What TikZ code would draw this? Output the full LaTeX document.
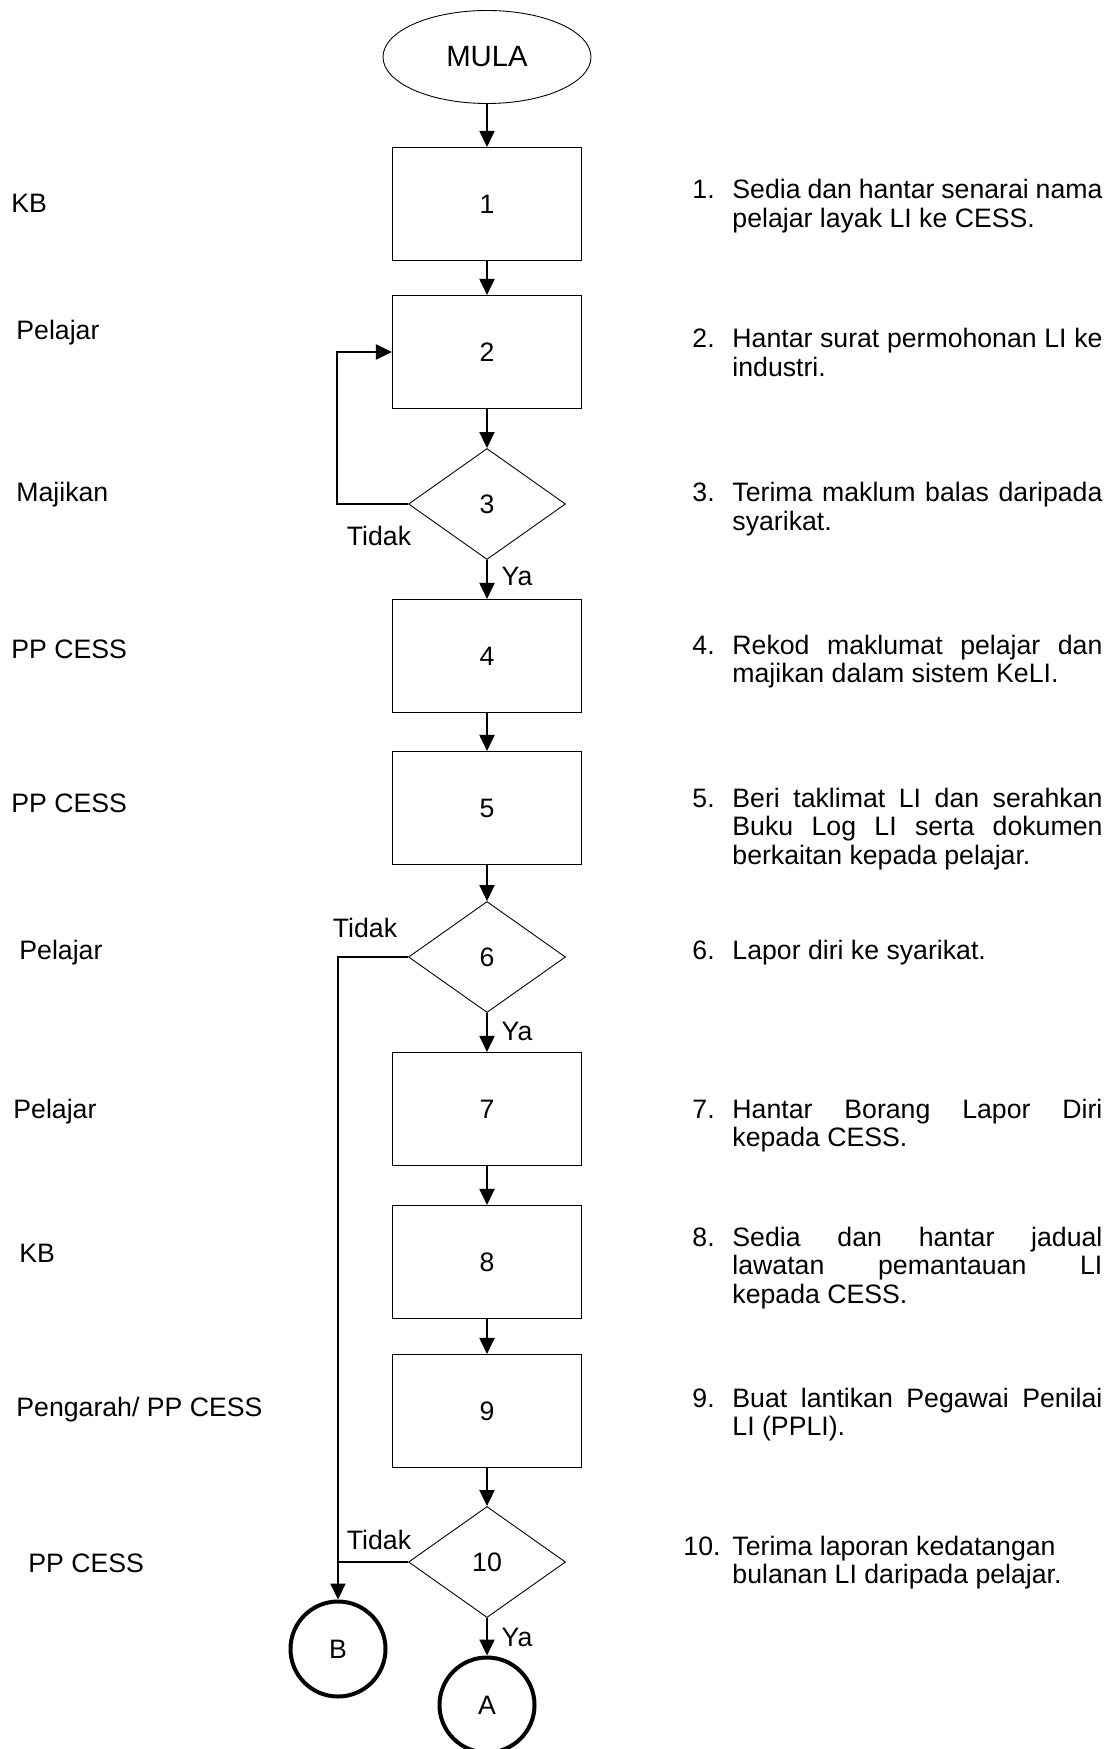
\documentclass[tikz,border=0pt]{standalone}
\usepackage{fontspec}
\setmainfont{Liberation Sans}
\usetikzlibrary{shapes.geometric,arrows.meta}
\newlength{\dw}\setlength{\dw}{166.5pt}
% one justified line of a description, stretched to the full column width
\newcommand{\jl}[1]{\makebox[\dw][s]{#1}\\}
\begin{document}
\begin{tikzpicture}[x=0.45pt,y=-0.45pt,
  every node/.style={font=\fontsize{12}{13}\selectfont},
  stepbox/.style={draw,line width=0.5pt,minimum width=85.05pt,minimum height=50.85pt,inner sep=0},
  decision/.style={draw,diamond,aspect=1.414,line width=0.4pt,minimum width=70.65pt,minimum height=49.95pt,inner sep=0},
  terminal/.style={draw,ellipse,line width=0.4pt,minimum width=93.6pt,minimum height=41.85pt,inner sep=0,font=\fontsize{13.2}{14}\selectfont},
  joiner/.style={draw,circle,line width=1.8pt,minimum size=42.75pt,inner sep=0},
  flow/.style={line width=0.7pt,-{Triangle[length=7.2pt,width=6.8pt]}},
  plain/.style={line width=0.7pt},
  role/.style={anchor=base west,inner sep=0},
  desc/.style={anchor=base west,inner sep=0},
  lbl/.style={inner sep=0},
]
\useasboundingbox (0,0) rectangle (1108,1749);
\fill[white] (0,0) rectangle (1108,1749);

% main column of the flow chart
\node[terminal] (start) at (487,57) {MULA};
\node[stepbox]  (b1) at (487,204) {1};
\node[stepbox]  (b2) at (487,352) {2};
\node[decision] (d3) at (487,504) {3};
\node[stepbox]  (b4) at (487,656) {4};
\node[stepbox]  (b5) at (487,808) {5};
\node[decision] (d6) at (487,957) {6};
\node[stepbox]  (b7) at (487,1109) {7};
\node[stepbox]  (b8) at (487,1262) {8};
\node[stepbox]  (b9) at (487,1411) {9};
\node[decision] (d10) at (487,1562) {10};
\node[joiner]   (B) at (338,1649) {B};
\node[joiner]   (A) at (487,1705) {A};

\coordinate (loopx) at (337,0);

% connectors
\draw[flow] (start) -- (b1);
\draw[flow] (b1) -- (b2);
\draw[flow] (b2) -- (d3);
\draw[flow] (d3.west) -- (d3.west -| loopx) |- (b2.west);
\draw[flow] (d3) -- (b4);
\draw[flow] (b4) -- (b5);
\draw[flow] (b5) -- (d6);
\draw[flow] (d6) -- (b7);
\draw[flow] (d6.west) -| (B.north);
\draw[flow] (b7) -- (b8);
\draw[flow] (b8) -- (b9);
\draw[flow] (b9) -- (d10);
\draw[plain] (d10.west) -- (d10.west -| B.north);
\draw[flow] (d10) -- (A);

% branch labels
\node[lbl] (t3)  at (379,536)  {Tidak};
\node[lbl] (y3)  at (517,576)  {Ya};
\node[lbl] (t6)  at (365,928)  {Tidak};
\node[lbl] (y6)  at (517,1031) {Ya};
\node[lbl] (t10) at (379,1540) {Tidak};
\node[lbl] (y10) at (517,1637) {Ya};

% who is responsible for each step
\node[role] (r1)  at (11,213)  {KB};
\node[role] (r2)  at (16,340)  {Pelajar};
\node[role] (r3)  at (16,501)  {Majikan};
\node[role] (r4)  at (11,658)  {PP CESS};
\node[role] (r5)  at (11,812)  {PP CESS};
\node[role] (r6)  at (19,959)  {Pelajar};
\node[role] (r7)  at (13,1118) {Pelajar};
\node[role] (r8)  at (19,1262) {KB};
\node[role] (r9)  at (16,1416) {Pengarah/ PP CESS};
\node[role] (r10) at (28,1572) {PP CESS};

% numbered step descriptions
\node[desc] (n1)  at (692,199)  {1.};
\node[desc] (s1)  at (732,199)  {\parbox[t]{\dw}{\jl{Sedia dan hantar senarai nama}pelajar layak LI ke CESS.}};
\node[desc] (n2)  at (692,348)  {2.};
\node[desc] (s2)  at (732,348)  {\parbox[t]{\dw}{\jl{Hantar surat permohonan LI ke}industri.}};
\node[desc] (n3)  at (692,502)  {3.};
\node[desc] (s3)  at (732,502)  {\parbox[t]{\dw}{\jl{Terima maklum balas daripada}syarikat.}};
\node[desc] (n4)  at (692,654)  {4.};
\node[desc] (s4)  at (732,654)  {\parbox[t]{\dw}{\jl{Rekod maklumat pelajar dan}majikan dalam sistem KeLI.}};
\node[desc] (n5)  at (692,807)  {5.};
\node[desc] (s5)  at (732,807)  {\parbox[t]{\dw}{\jl{Beri taklimat LI dan serahkan}\jl{Buku Log LI serta dokumen}berkaitan kepada pelajar.}};
\node[desc] (n6)  at (692,959)  {6.};
\node[desc] (s6)  at (732,959)  {\parbox[t]{\dw}{Lapor diri ke syarikat.}};
\node[desc] (n7)  at (692,1118) {7.};
\node[desc] (s7)  at (732,1118) {\parbox[t]{\dw}{\jl{Hantar Borang Lapor Diri}kepada CESS.}};
\node[desc] (n8)  at (692,1246) {8.};
\node[desc] (s8)  at (732,1246) {\parbox[t]{\dw}{\jl{Sedia dan hantar jadual}\jl{lawatan pemantauan LI}kepada CESS.}};
\node[desc] (n9)  at (692,1407) {9.};
\node[desc] (s9)  at (732,1407) {\parbox[t]{\dw}{\jl{Buat lantikan Pegawai Penilai}LI (PPLI).}};
\node[desc] (n10) at (683,1555) {10.};
\node[desc] (s10) at (732,1555) {\parbox[t]{\dw}{Terima laporan kedatangan\\bulanan LI daripada pelajar.}};
\end{tikzpicture}
\end{document}
